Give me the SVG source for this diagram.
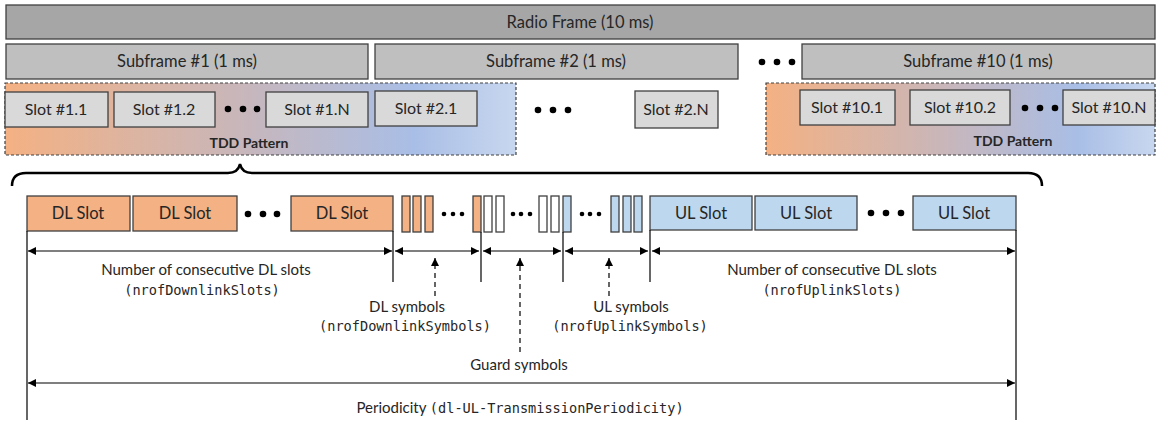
<svg xmlns="http://www.w3.org/2000/svg" width="1159" height="424" viewBox="0 0 1159 424">
<defs>
<linearGradient id="tdd" x1="0" y1="0" x2="1" y2="0">
<stop offset="0" stop-color="#f4b183"/>
<stop offset="0.45" stop-color="#c9b6b9"/>
<stop offset="0.8" stop-color="#a9bee6"/>
<stop offset="1" stop-color="#c8d7ef"/>
</linearGradient>
<marker id="ah" viewBox="0 0 10 10" refX="10" refY="5" markerWidth="8" markerHeight="8" markerUnits="userSpaceOnUse" orient="auto-start-reverse">
<path d="M0,0 L10,5 L0,10 z" fill="#000"/>
</marker>
</defs>
<style>
.t{font-family:Lato,"Open Sans","Liberation Sans",sans-serif;font-size:16.5px;fill:#262626;text-anchor:middle}
.s{font-family:Lato,"Open Sans","Liberation Sans",sans-serif;font-size:16px;fill:#262626;text-anchor:middle}
.l{font-family:Lato,"Open Sans","Liberation Sans",sans-serif;font-size:15px;fill:#262626;text-anchor:middle}
.m{font-family:"DejaVu Sans Mono","Liberation Mono",monospace;font-size:13.6px;fill:#262626}
.b{font-family:Lato,"Liberation Sans",sans-serif;font-size:14px;font-weight:bold;fill:#262626;text-anchor:middle}
.frame{fill:#a6a6a6;stroke:#404040;stroke-width:1.3}
.sub{fill:#bfbfbf;stroke:#404040;stroke-width:1.3}
.slot{fill:#d9d9d9;stroke:#404040;stroke-width:1.3}
.tdd{fill:url(#tdd);stroke:#404040;stroke-width:1.2;stroke-dasharray:3,2}
.dl{fill:#f4b183;stroke:#404040;stroke-width:1.3}
.ul{fill:#bdd7ee;stroke:#404040;stroke-width:1.3}
.gd{fill:#fff;stroke:#404040;stroke-width:1.3}
.ln{stroke:#000;stroke-width:1.2;fill:none}
.arr{stroke:#000;stroke-width:1.2;fill:none;marker-start:url(#ah);marker-end:url(#ah)}
.dash{stroke:#000;stroke-width:1.2;fill:none;stroke-dasharray:5,4;marker-end:url(#ah)}
.dot{fill:#000}
</style>

<g id="radio-frame">
<rect class="frame" x="6" y="5" width="1149" height="34"/>
<text class="t" x="580" y="28">Radio Frame (10 ms)</text>
</g>

<g id="subframe-1">
<rect class="sub" x="6" y="44" width="362" height="35"/>
<text class="t" x="187" y="67">Subframe #1 (1 ms)</text>
</g>
<g id="subframe-2">
<rect class="sub" x="375" y="44" width="363" height="35"/>
<text class="t" x="556" y="67">Subframe #2 (1 ms)</text>
</g>
<g id="subframe-dots">
<circle class="dot" cx="762" cy="62" r="3.3"/>
<circle class="dot" cx="777" cy="62" r="3.3"/>
<circle class="dot" cx="792" cy="62" r="3.3"/>
</g>
<g id="subframe-10">
<rect class="sub" x="802" y="44" width="353" height="35"/>
<text class="t" x="978" y="67">Subframe #10 (1 ms)</text>
</g>

<g id="tdd-pattern-1">
<rect class="tdd" x="5" y="83" width="511" height="72"/>
<text class="b" x="249" y="148">TDD Pattern</text>
</g>
<g id="tdd-pattern-2">
<rect class="tdd" x="766" y="83" width="389" height="72"/>
<text class="b" x="1013" y="146">TDD Pattern</text>
</g>

<g id="slot-1-1"><rect class="slot" x="5" y="92" width="103" height="35"/><text class="s" x="56" y="115">Slot #1.1</text></g>
<g id="slot-1-2"><rect class="slot" x="114" y="92" width="101" height="35"/><text class="s" x="164" y="115">Slot #1.2</text></g>
<g id="slot-dots-1">
<circle class="dot" cx="228" cy="109" r="3.3"/>
<circle class="dot" cx="243" cy="109" r="3.3"/>
<circle class="dot" cx="257" cy="109" r="3.3"/>
</g>
<g id="slot-1-n"><rect class="slot" x="266" y="92" width="102" height="35"/><text class="s" x="317" y="115">Slot #1.N</text></g>
<g id="slot-2-1"><rect class="slot" x="375" y="91" width="102" height="35"/><text class="s" x="426" y="114">Slot #2.1</text></g>
<g id="slot-dots-2">
<circle class="dot" cx="538" cy="110" r="3.3"/>
<circle class="dot" cx="553" cy="110" r="3.3"/>
<circle class="dot" cx="568" cy="110" r="3.3"/>
</g>
<g id="slot-2-n"><rect class="slot" x="635" y="91" width="83" height="37"/><text class="s" x="676" y="115">Slot #2.N</text></g>
<g id="slot-10-1"><rect class="slot" x="800" y="90" width="95" height="35"/><text class="s" x="847" y="113">Slot #10.1</text></g>
<g id="slot-10-2"><rect class="slot" x="910" y="90" width="100" height="35"/><text class="s" x="960" y="113">Slot #10.2</text></g>
<g id="slot-dots-10">
<circle class="dot" cx="1025" cy="108" r="3.3"/>
<circle class="dot" cx="1040" cy="108" r="3.3"/>
<circle class="dot" cx="1055" cy="108" r="3.3"/>
</g>
<g id="slot-10-n"><rect class="slot" x="1063" y="90" width="92" height="35"/><text class="s" x="1109" y="113">Slot #10.N</text></g>

<g id="brace">
<path d="M12,186 Q12,173 26,173 L228,173 Q238,173 240,164 Q242,173 252,173 L1028,173 Q1042,173 1042,186" fill="none" stroke="#000" stroke-width="2.5"/>
</g>

<g id="dl-slots">
<rect class="dl" x="27" y="196" width="103" height="35"/><text class="t" x="78" y="219">DL Slot</text>
<rect class="dl" x="133" y="196" width="104" height="35"/><text class="t" x="185" y="219">DL Slot</text>
<circle class="dot" cx="248" cy="214" r="3.3"/>
<circle class="dot" cx="263" cy="214" r="3.3"/>
<circle class="dot" cx="277" cy="214" r="3.3"/>
<rect class="dl" x="291" y="196" width="102" height="35"/><text class="t" x="342" y="219">DL Slot</text>
</g>

<g id="symbols">
<rect class="dl" x="402" y="196" width="8" height="36"/>
<rect class="dl" x="413" y="196" width="8" height="36"/>
<rect class="dl" x="425" y="196" width="8" height="36"/>
<circle class="dot" cx="444" cy="214" r="2.3"/>
<circle class="dot" cx="453" cy="214" r="2.3"/>
<circle class="dot" cx="462" cy="214" r="2.3"/>
<rect class="dl" x="473" y="196" width="8" height="36"/>
<rect class="gd" x="484" y="196" width="8" height="36"/>
<rect class="gd" x="496" y="196" width="8" height="36"/>
<circle class="dot" cx="513" cy="214" r="2.3"/>
<circle class="dot" cx="521" cy="214" r="2.3"/>
<circle class="dot" cx="530" cy="214" r="2.3"/>
<rect class="gd" x="539" y="196" width="8" height="36"/>
<rect class="gd" x="551" y="196" width="8" height="36"/>
<rect class="ul" x="563" y="196" width="8" height="36"/>
<circle class="dot" cx="582" cy="214" r="2.3"/>
<circle class="dot" cx="590" cy="214" r="2.3"/>
<circle class="dot" cx="599" cy="214" r="2.3"/>
<rect class="ul" x="611" y="196" width="8" height="36"/>
<rect class="ul" x="623" y="196" width="8" height="36"/>
<rect class="ul" x="634" y="196" width="8" height="36"/>
</g>

<g id="ul-slots">
<rect class="ul" x="650" y="196" width="102" height="34"/><text class="t" x="701" y="219">UL Slot</text>
<rect class="ul" x="755" y="196" width="102" height="34"/><text class="t" x="806" y="219">UL Slot</text>
<circle class="dot" cx="871" cy="213" r="3.3"/>
<circle class="dot" cx="886" cy="213" r="3.3"/>
<circle class="dot" cx="901" cy="213" r="3.3"/>
<rect class="ul" x="913" y="196" width="103" height="34"/><text class="t" x="964" y="219">UL Slot</text>
</g>

<g id="connectors">
<line class="ln" x1="27" y1="231" x2="27" y2="420"/>
<line class="ln" x1="393" y1="231" x2="393" y2="282"/>
<line class="ln" x1="481" y1="232" x2="481" y2="282"/>
<line class="ln" x1="563" y1="232" x2="563" y2="282"/>
<line class="ln" x1="650" y1="230" x2="650" y2="282"/>
<line class="ln" x1="1016" y1="230" x2="1016" y2="420"/>
<line class="arr" x1="28" y1="251" x2="392" y2="251"/>
<line class="arr" x1="395" y1="251" x2="479" y2="251"/>
<line class="arr" x1="483" y1="251" x2="561" y2="251"/>
<line class="arr" x1="565" y1="251" x2="648" y2="251"/>
<line class="arr" x1="652" y1="251" x2="1015" y2="251"/>
<line class="dash" x1="435" y1="296" x2="435" y2="258"/>
<line class="dash" x1="520" y1="352" x2="520" y2="258"/>
<line class="dash" x1="609" y1="296" x2="609" y2="258"/>
<line class="arr" x1="28" y1="383" x2="1015" y2="383"/>
</g>

<g id="labels">
<text class="l" x="206" y="275">Number of consecutive DL slots</text>
<text class="m" x="202" y="295" text-anchor="middle">(nrofDownlinkSlots)</text>
<text class="l" x="407" y="312">DL symbols</text>
<text class="m" x="405" y="331" text-anchor="middle">(nrofDownlinkSymbols)</text>
<text class="l" x="519" y="370">Guard symbols</text>
<text class="l" x="631" y="312">UL symbols</text>
<text class="m" x="630" y="331" text-anchor="middle">(nrofUplinkSymbols)</text>
<text class="l" x="832" y="275">Number of consecutive DL slots</text>
<text class="m" x="832" y="295" text-anchor="middle">(nrofUplinkSlots)</text>
<text class="l" x="520" y="413">Periodicity <tspan class="m">(dl-UL-TransmissionPeriodicity)</tspan></text>
</g>
</svg>
